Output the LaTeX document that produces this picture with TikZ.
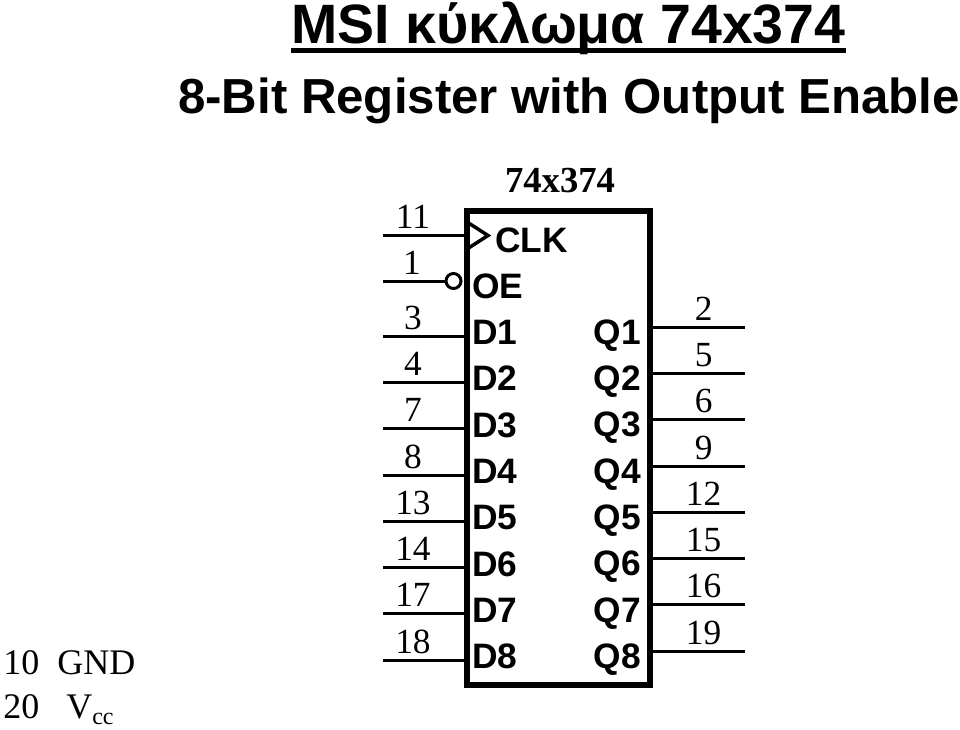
\documentclass[tikz,border=0pt]{standalone}
\usepackage{fontspec}
\setmainfont{Liberation Serif}
\setsansfont{Liberation Sans}
\usetikzlibrary{positioning}
\tikzset{node distance=15.6pt,
	wire/.style={line width=2.25pt},
	pinnum/.style={above=3.5pt,inner sep=0pt,text depth=0pt,font=\fontsize{26.5}{28}\selectfont},
	sig/.style={inner sep=0pt,text height=18.75pt,text depth=0pt,font=\sffamily\bfseries\fontsize{26.5}{28}\selectfont},
	chipbox/.style={draw,line width=4.5pt,minimum width=137.25pt,minimum height=355.5pt,inner sep=0pt},
	bubble/.style={draw,circle,line width=2.25pt,minimum size=11.25pt,inner sep=0pt},
	heading/.style={inner sep=0pt,anchor=base,text depth=0pt,font=\sffamily\bfseries\fontsize{41.6}{44}\selectfont},
	subheading/.style={inner sep=0pt,anchor=base,text depth=0pt,font=\sffamily\bfseries\fontsize{36.9}{40}\selectfont},
	plain/.style={inner sep=0pt,anchor=base,font=\fontsize{27}{30}\selectfont}}
\begin{document}
\begin{tikzpicture}[x=0.75pt,y=-0.75pt]
	\useasboundingbox (0,0) rectangle (960,729);

	\node[heading] (title) at (568.5,43) {MSI κύκλωμα 74x374};
	\node[subheading] (subtitle) at (569,113.5) {8-Bit Register with Output Enable};
	\draw[line width=3.75pt] ([yshift=-5.25pt]title.base west) -- ([yshift=-5.25pt]title.base east);

	\node[chipbox] (chip) at (558.5,448) {};
	\node[plain,font=\bfseries\fontsize{27.5}{30}\selectfont] (part) at (560,192) {74x374};

	\node[sig,anchor=base west] (clk) at (495,252) {CLK};
	\node[sig,anchor=base west] (oe) at (472,298) {OE};
	\node[sig] (d1) [below=of oe.south west,anchor=north west] {D1};
	\node[sig] (d2) [below=of d1.south west,anchor=north west] {D2};
	\node[sig] (d3) [below=of d2.south west,anchor=north west] {D3};
	\node[sig] (d4) [below=of d3.south west,anchor=north west] {D4};
	\node[sig] (d5) [below=of d4.south west,anchor=north west] {D5};
	\node[sig] (d6) [below=of d5.south west,anchor=north west] {D6};
	\node[sig] (d7) [below=of d6.south west,anchor=north west] {D7};
	\node[sig] (d8) [below=of d7.south west,anchor=north west] {D8};
	\node[sig,anchor=base east] (q1) at (641,344) {Q1};
	\node[sig] (q2) [below=of q1.south east,anchor=north east] {Q2};
	\node[sig] (q3) [below=of q2.south east,anchor=north east] {Q3};
	\node[sig] (q4) [below=of q3.south east,anchor=north east] {Q4};
	\node[sig] (q5) [below=of q4.south east,anchor=north east] {Q5};
	\node[sig] (q6) [below=of q5.south east,anchor=north east] {Q6};
	\node[sig] (q7) [below=of q6.south east,anchor=north east] {Q7};
	\node[sig] (q8) [below=of q7.south east,anchor=north east] {Q8};

	% clock wedge
	\coordinate (wtop) at (467,222);
	\coordinate (wtip) at (488,235.5);
	\coordinate (wbot) at (467,249);
	\draw[line width=2.6pt] (wtop) -- (wtip) -- (wbot);

	\node[bubble] (inv) at (453.5,281) {};

	\coordinate (p11) at (383,235);
	\coordinate (p1) at (383,281);
	\coordinate (p3) at (383,336);
	\coordinate (p4) at (383,382);
	\coordinate (p7) at (383,428);
	\coordinate (p8) at (383,475);
	\coordinate (p13) at (383,521);
	\coordinate (p14) at (383,567);
	\coordinate (p17) at (383,613);
	\coordinate (p18) at (383,660);
	\coordinate (p2) at (745,327);
	\coordinate (p5) at (745,373);
	\coordinate (p6) at (745,419);
	\coordinate (p9) at (745,466);
	\coordinate (p12) at (745,512);
	\coordinate (p15) at (745,558);
	\coordinate (p16) at (745,604);
	\coordinate (p19) at (745,651);

	\path[draw,wire]
	(p11) -- node[pinnum,pos=.37] (n11) {11} (p11 -| chip.west)
	(p1) -- node[pinnum,pos=.47] (n1) {1} (inv.west)
	(p3) -- node[pinnum,pos=.37] (n3) {3} (p3 -| chip.west)
	(p4) -- node[pinnum,pos=.37] (n4) {4} (p4 -| chip.west)
	(p7) -- node[pinnum,pos=.37] (n7) {7} (p7 -| chip.west)
	(p8) -- node[pinnum,pos=.37] (n8) {8} (p8 -| chip.west)
	(p13) -- node[pinnum,pos=.37] (n13) {13} (p13 -| chip.west)
	(p14) -- node[pinnum,pos=.37] (n14) {14} (p14 -| chip.west)
	(p17) -- node[pinnum,pos=.37] (n17) {17} (p17 -| chip.west)
	(p18) -- node[pinnum,pos=.37] (n18) {18} (p18 -| chip.west)
	(p2 -| chip.east) -- node[pinnum,pos=.55] (n2) {2} (p2)
	(p5 -| chip.east) -- node[pinnum,pos=.55] (n5) {5} (p5)
	(p6 -| chip.east) -- node[pinnum,pos=.55] (n6) {6} (p6)
	(p9 -| chip.east) -- node[pinnum,pos=.55] (n9) {9} (p9)
	(p12 -| chip.east) -- node[pinnum,pos=.55] (n12) {12} (p12)
	(p15 -| chip.east) -- node[pinnum,pos=.55] (n15) {15} (p15)
	(p16 -| chip.east) -- node[pinnum,pos=.55] (n16) {16} (p16)
	(p19 -| chip.east) -- node[pinnum,pos=.55] (n19) {19} (p19)
	;

	\node[plain,anchor=base west] (ten) at (3,674) {10};
	\node[plain,anchor=base west] (gnd) at (57,674) {GND};
	\node[plain,anchor=base west] (twenty) at (3,718) {20};
	\node[plain,anchor=base west] (vcc) at (66,718) {V\raisebox{-5pt}{\fontsize{18}{20}\selectfont cc}};
\end{tikzpicture}
\end{document}
